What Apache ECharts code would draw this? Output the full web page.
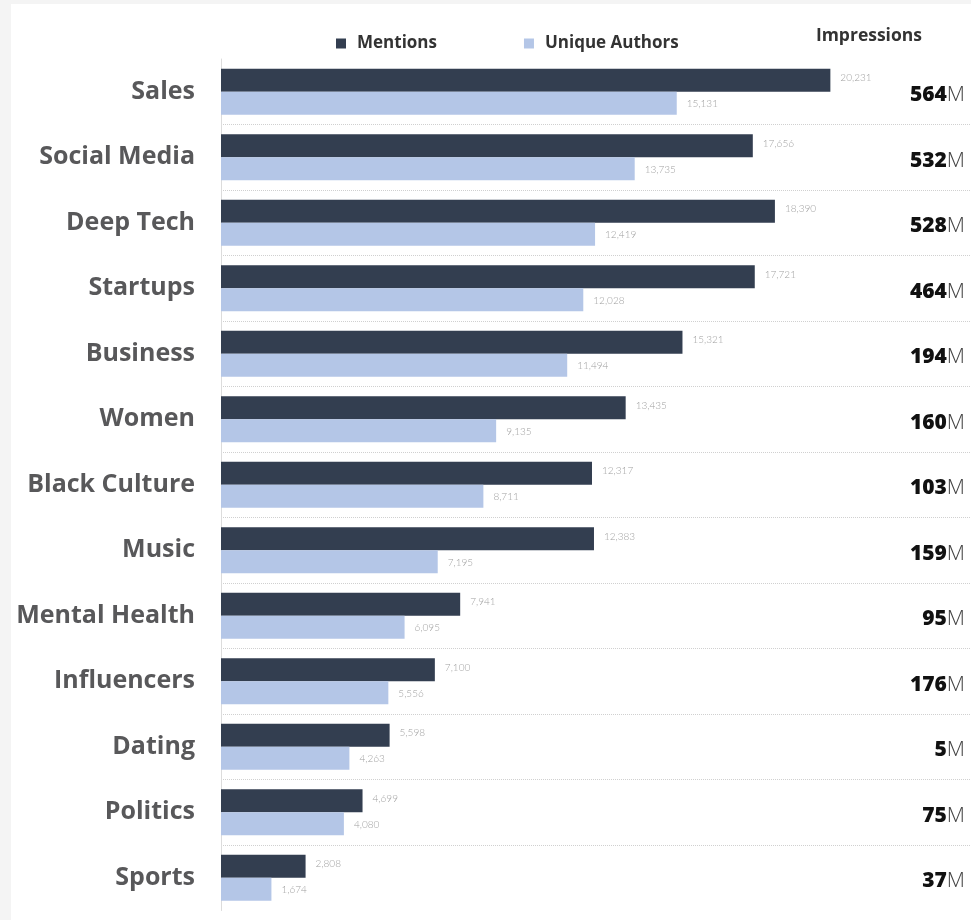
<!DOCTYPE html>
<html>
<head>
<meta charset="utf-8">
<script src="https://cdn.jsdelivr.net/npm/echarts@6/dist/echarts.min.js"></script>
<style>
html,body{margin:0;padding:0;background:#f4f4f4;}
#chart{width:971px;height:920px;}
</style>
</head>
<body>
<div id="chart"></div>
<script>
const categories = ['Sales','Social Media','Deep Tech','Startups','Business','Women','Black Culture','Music','Mental Health','Influencers','Dating','Politics','Sports'];
const mentions = [20231,17656,18390,17721,15321,13435,12317,12383,7941,7100,5598,4699,2808];
const uniqueAuthors = [15131,13735,12419,12028,11494,9135,8711,7195,6095,5556,4263,4080,1674];
const impressions = [564,532,528,464,194,160,103,159,95,176,5,75,37];

const chart = echarts.init(document.getElementById('chart'));
const fmt = v => Number(v).toLocaleString('en-US');
const valueLabel = (dy) => ({
  show: true, position: 'right', distance: 10,
  fontSize: 10, color: '#9f9f9f', fontFamily: 'Lato', fontWeight: 300,
  offset: [0, dy],
  formatter: p => fmt(p.value)
});

chart.setOption({
  backgroundColor: 'transparent',
  animation: false,
  graphic: [{
    type: 'rect', z: -10, silent: true,
    shape: {x: 11, y: 4, width: 971, height: 920},
    style: {fill: '#ffffff'}
  }],
  title: {
    text: 'Impressions', right: 44, top: 22,
    textStyle: {fontSize: 17.5, fontWeight: 'bold', color: '#333', fontFamily: 'Open Sans'}
  },
  legend: {
    left: 331, top: 30, icon: 'rect', itemWidth: 10, itemHeight: 10, itemGap: 87,
    textStyle: {fontSize: 17, fontWeight: 'bold', color: '#333', fontFamily: 'Open Sans', padding: [0, 0, 0, 6]},
    data: ['Mentions','Unique Authors']
  },
  grid: {left: 221, right: 0, top: 59, bottom: 9.5, containLabel: false},
  xAxis: {type: 'value', min: 0, max: 24900, show: false, splitLine: {show: false}},
  yAxis: [{
    type: 'category', inverse: true, data: categories,
    axisLine: {show: true, lineStyle: {color: '#dcdcdc', width: 1}},
    axisTick: {show: false},
    axisLabel: {fontSize: 25, fontWeight: 'bold', color: '#58585a', fontFamily: 'Open Sans', margin: 26},
    splitLine: {show: true, showMinLine: false, showMaxLine: false, lineStyle: {type: 'dotted', color: '#d0d0d0', width: 1}}
  },{
    type: 'category', inverse: true, data: categories, position: 'right',
    axisLine: {show: false}, axisTick: {show: false}, splitLine: {show: false},
    axisLabel: {
      inside: true, margin: 6,
      formatter: (v, i) => '{b|' + impressions[i] + '}{m|M}',
      rich: {
        b: {fontSize: 21, fontWeight: 800, color: '#111', fontFamily: 'Open Sans', padding: [7, 0, 0, 0]},
        m: {fontSize: 21, fontWeight: 300, color: '#444', fontFamily: 'Open Sans', padding: [7, 0, 0, 0]}
      }
    }
  }],
  series: [{
    name: 'Mentions', type: 'bar', data: mentions, barWidth: 23, barGap: '0%',
    itemStyle: {color: '#333e50'},
    label: valueLabel(-2)
  },{
    name: 'Unique Authors', type: 'bar', data: uniqueAuthors, barWidth: 23, barGap: '0%',
    itemStyle: {color: '#b4c6e7'},
    label: valueLabel(1)
  }]
});
</script>
</body>
</html>
